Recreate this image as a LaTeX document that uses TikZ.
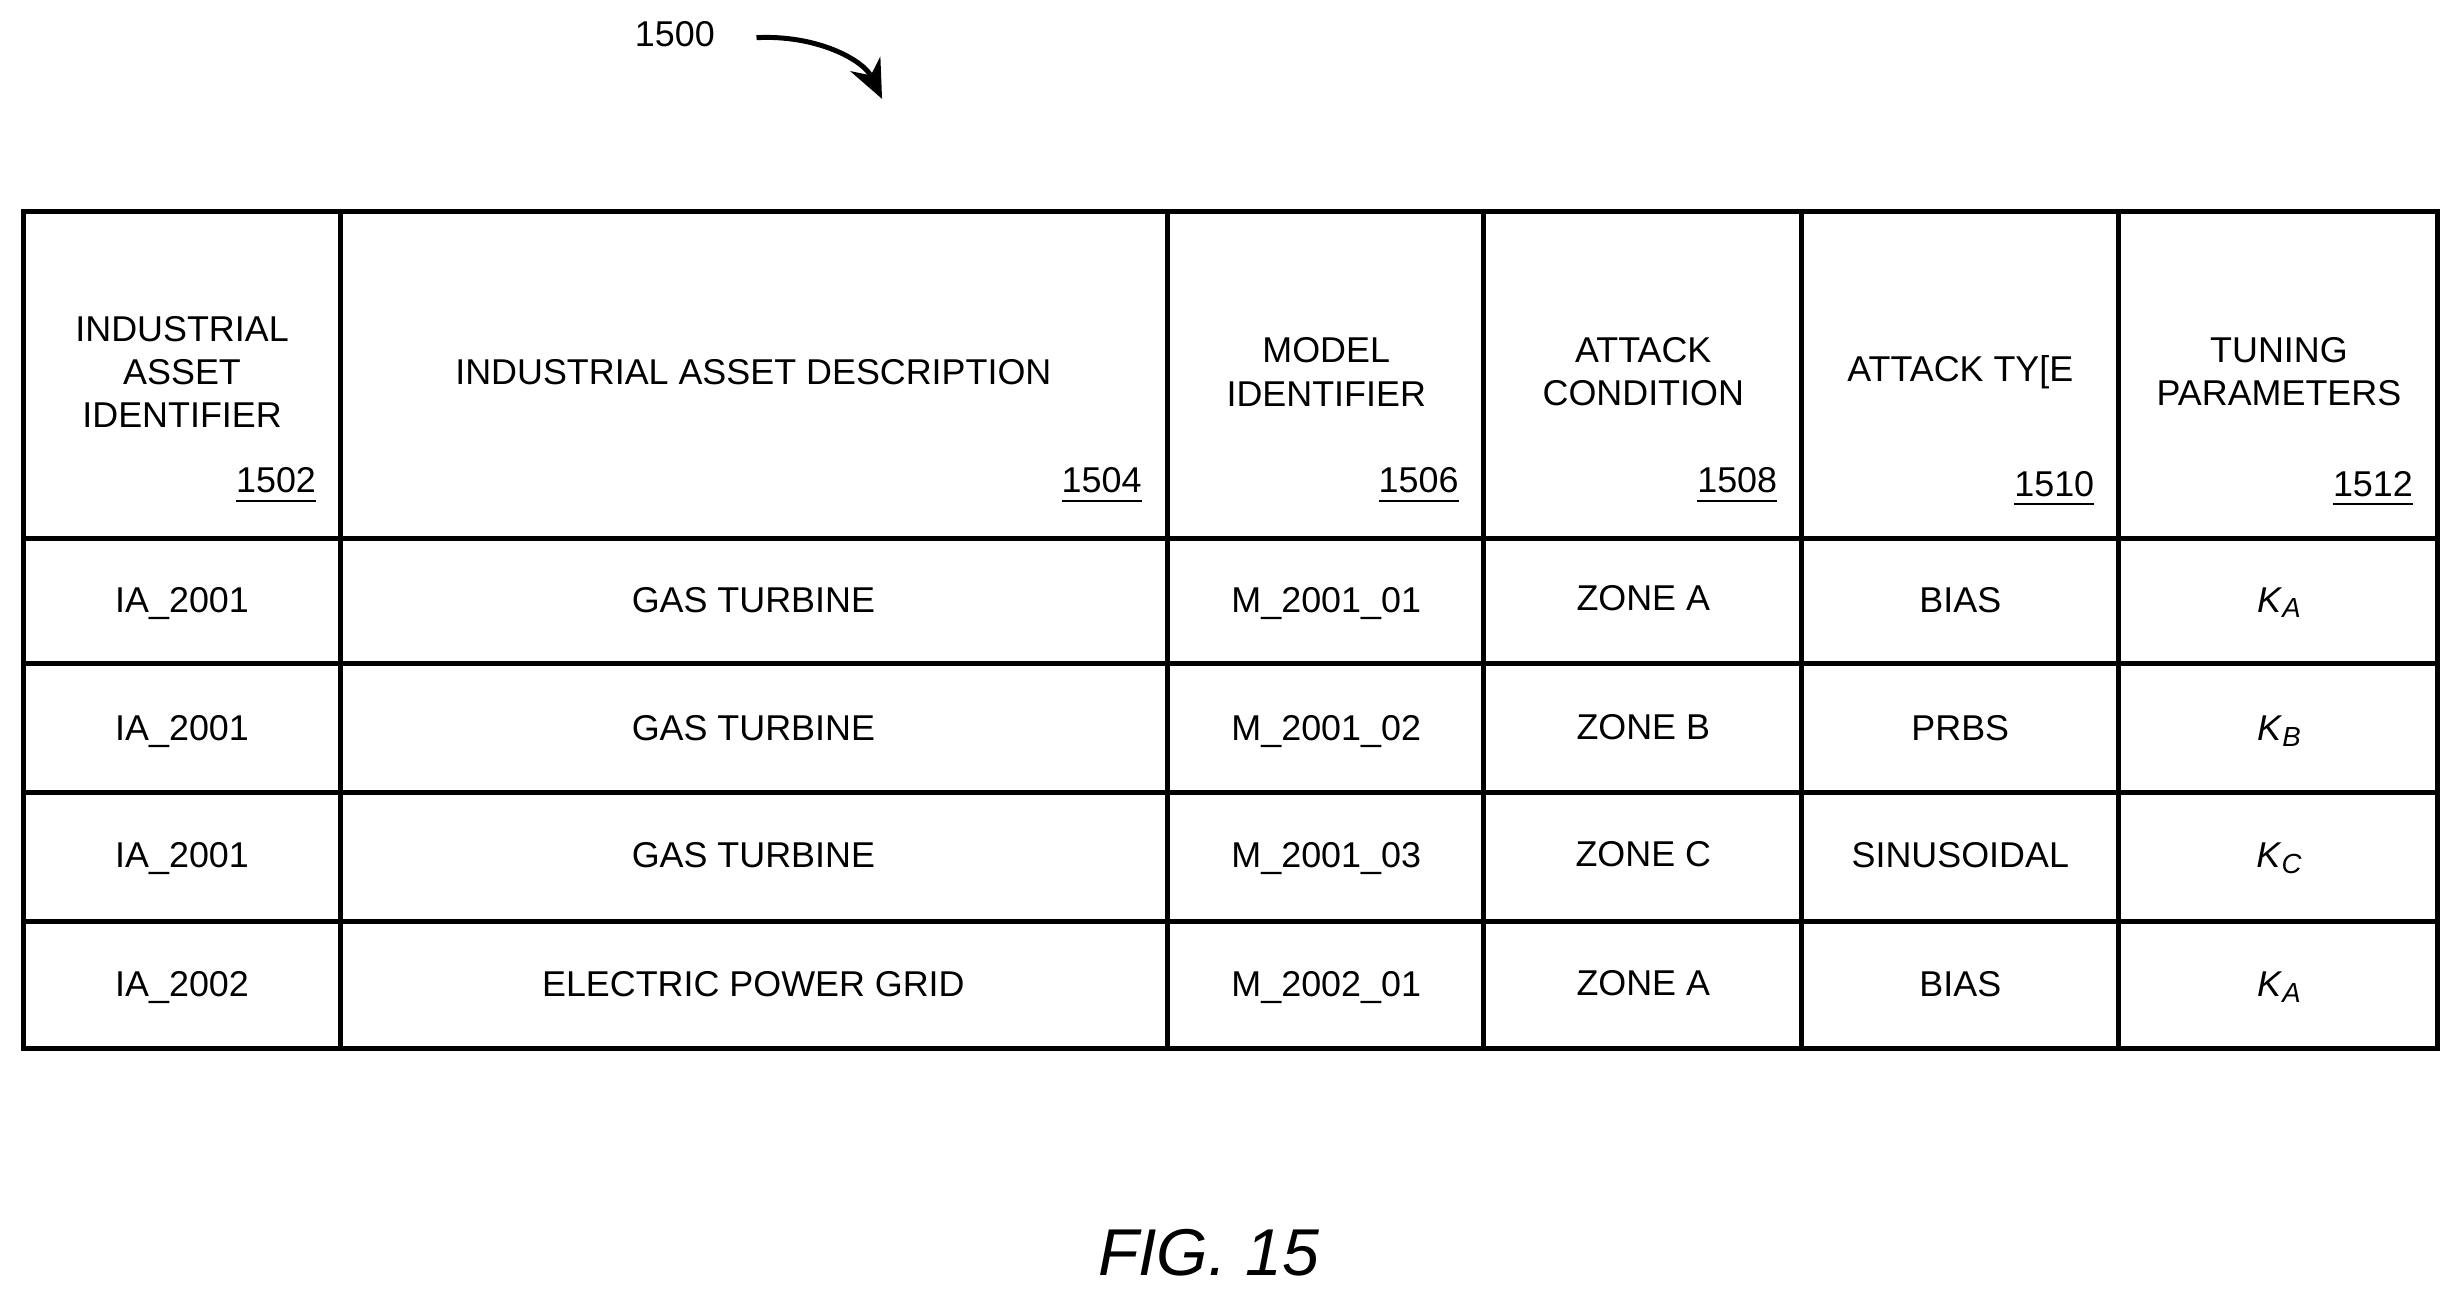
\documentclass[tikz,border=0pt]{standalone}
\usepackage{fontspec}
\setmainfont{Liberation Sans}
\usetikzlibrary{arrows.meta}
\begin{document}
\begin{tikzpicture}[x=0.01cm,y=-0.01cm,
  cell/.style={font=\fontsize{6.5}{7.8}\selectfont,align=center,inner sep=0pt},
  rc/.style={font=\fontsize{6.5}{7.8}\selectfont,anchor=base,inner sep=0pt},
  num/.style={font=\fontsize{6.5}{7.8}\selectfont,anchor=south east,inner sep=0pt},
  grid/.style={line width=0.9pt}]
\useasboundingbox (0,0) rectangle (1568,826);
\foreach \a/\b in {15/217,217/744,744/945,945/1148,1148/1350,1350/1553}{
  \draw[grid] (\a,135) rectangle (\b,343);
  \foreach \t/\u in {343/423,423/505,505/587,587/668}{\draw[grid] (\a,\t) rectangle (\b,\u);}
}
% headers
\node[cell] (h1) at (116,237) {INDUSTRIAL\\ASSET\\IDENTIFIER};
\node[cell] (h2) at (480,237) {INDUSTRIAL ASSET DESCRIPTION};
\node[cell] (h3) at (845,237) {MODEL\\IDENTIFIER};
\node[cell] (h4) at (1047,237) {ATTACK\\CONDITION};
\node[cell] (h5) at (1249,237) {ATTACK TY[E};
\node[cell] (h6) at (1452,237) {TUNING\\PARAMETERS};
\node[num] (n1) at (202,322) {\underline{1502}};
\node[num] (n2) at (728,322) {\underline{1504}};
\node[num] (n3) at (930,322) {\underline{1506}};
\node[num] (n4) at (1133,322) {\underline{1508}};
\node[num] (n5) at (1335,324) {\underline{1510}};
\node[num] (n6) at (1538,324) {\underline{1512}};
% rows
\foreach \y/\ia/\d/\m/\z/\at/\k [count=\i] in {
 390/IA\_2001/GAS TURBINE/M\_2001\_01/ZONE A/BIAS/A,
 472/IA\_2001/GAS TURBINE/M\_2001\_02/ZONE B/PRBS/B,
 553/IA\_2001/GAS TURBINE/M\_2001\_03/ZONE C/SINUSOIDAL/C,
 635/IA\_2002/ELECTRIC POWER GRID/M\_2002\_01/ZONE A/BIAS/A}{
 \node[rc] (r\i a) at (116,\y) {\ia};
 \node[rc] (r\i b) at (480,\y) {\d};
 \node[rc] (r\i c) at (845,\y) {\m};
 \node[rc] (r\i d) at (1047,\y-1) {\z};
 \node[rc] (r\i e) at (1249,\y) {\at};
 \node[rc] (r\i f) at (1452,\y) {\textit{K}\raisebox{-0.3ex}{\fontsize{5}{5}\selectfont\textit{\k}}};
}
\node[cell] (lbl) at (430,22) {1500};
\coordinate (tip) at (562,63);
\draw[line width=0.9pt,-{Stealth[length=7pt,width=6pt]}] (482,24) .. controls (520,22) and (550,38) .. (tip);
\node[font=\fontsize{12}{14}\selectfont\itshape,inner sep=0pt] (fig) at (770,798) {FIG. 15};
\end{tikzpicture}
\end{document}
